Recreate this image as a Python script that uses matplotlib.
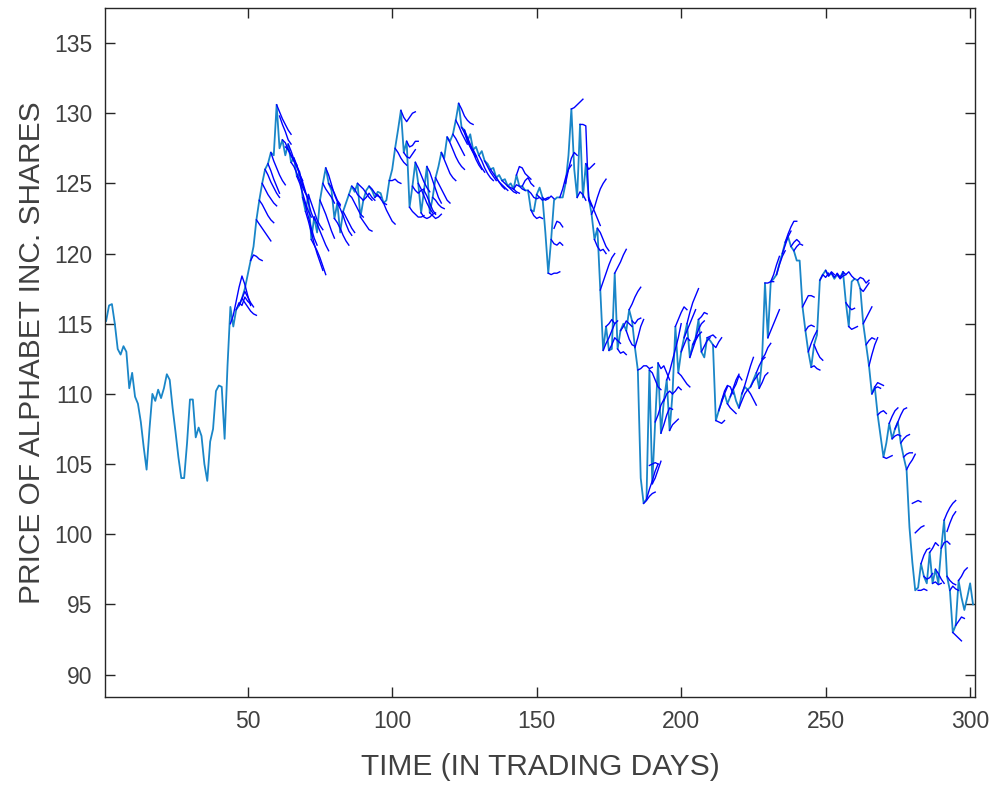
import matplotlib
matplotlib.use("Agg")
import matplotlib.pyplot as plt

# price, day 1..301 (the light line)
price = [115.2, 116.3, 116.4, 115.0, 113.2, 112.8, 113.4, 113.0, 110.4, 111.5,
         109.8, 109.3, 108.0, 106.2, 104.6, 107.5, 110.0, 109.5, 110.3, 109.7,
         110.4, 111.4, 111.0, 109.0, 107.3, 105.5, 104.0, 104.0, 106.5, 109.6,
         109.6, 106.9, 107.6, 107.0, 105.0, 103.8, 106.6, 107.5, 110.2, 110.6,
         110.5, 106.8, 112.0, 116.2, 114.8, 116.0, 116.3, 116.8, 117.5, 118.5,
         119.5, 120.5, 122.4, 123.8, 125.0, 126.0, 126.4, 127.2, 127.0, 130.6,
         127.5, 128.1, 127.0, 127.8, 126.5, 126.8, 125.5, 125.7, 124.0, 123.0,
         124.2, 121.0, 122.6, 121.5, 123.8, 125.0, 126.1, 125.0, 124.5, 122.5,
         123.6, 121.5, 123.0, 123.6, 124.2, 124.8, 124.4, 125.0, 122.6, 123.8,
         124.5, 124.8, 124.5, 124.0, 124.4, 124.3, 123.6, 123.8, 125.2, 126.0,
         127.5, 128.8, 130.2, 127.2, 128.0, 123.3, 124.8, 126.5, 125.0, 122.9,
         124.5, 126.2, 122.9, 124.0, 125.4, 126.2, 127.2, 126.8, 128.3, 128.0,
         128.5, 129.5, 130.7, 129.0, 128.8, 128.0, 128.5, 127.4, 127.6, 127.0,
         127.3, 126.6, 126.4, 126.0, 126.1, 125.4, 125.6, 125.2, 125.3, 124.8,
         125.0, 124.6, 125.6, 124.8, 124.8, 124.5, 124.5, 123.1, 123.0, 124.2,
         124.7, 124.0, 121.5, 118.6, 121.0, 123.8, 124.0, 124.0, 124.0, 125.0,
         127.0, 130.3, 126.0, 124.0, 129.2, 124.0, 126.4, 124.0, 122.8, 121.0,
         121.8, 117.4, 113.1, 114.8, 113.1, 113.2, 118.6, 113.2, 114.5, 115.0,
         114.5, 116.0, 115.2, 113.3, 111.7, 104.0, 102.2, 102.5, 111.7, 103.6,
         108.0, 112.2, 107.2, 109.5, 111.0, 107.4, 110.0, 114.8, 111.5, 113.0,
         114.0, 115.0, 112.6, 113.5, 114.0, 115.3, 113.0, 112.6, 114.0, 113.8,
         113.5, 108.1, 108.8, 109.5, 110.0, 109.3, 109.8, 110.3, 109.5, 109.0,
         110.0, 110.5, 110.3, 110.5, 111.0, 111.5, 110.4, 112.5, 117.9, 114.0,
         118.0, 118.2, 118.5, 119.3, 120.0, 120.8, 121.2, 120.5, 120.2, 119.5,
         119.5, 116.2, 114.5, 113.0, 111.9, 113.5, 114.2, 118.1, 118.5, 118.8,
         118.4, 118.6, 118.2, 118.5, 118.3, 118.7, 116.5, 114.8, 118.0, 118.2,
         118.1, 117.5, 115.0, 113.5, 112.0, 110.0, 110.5, 108.5, 107.0, 105.5,
         106.5, 107.9, 106.8, 107.5, 108.0, 106.5, 105.5, 104.6, 100.5, 98.0,
         96.0, 96.2, 97.9, 97.0, 96.5, 98.7, 96.5, 97.5, 96.5, 99.0,
         101.0, 97.0, 96.0, 93.0, 93.5, 96.7, 95.5, 94.6, 95.5, 96.5,
         95.0]
days = list(range(1, len(price) + 1))

# forecast pieces: first day and the values from that day on
fc_start = [44, 46, 47, 48, 51, 53, 54, 55, 56, 57, 58, 60, 61, 62, 63, 64, 65, 66, 67, 68,
            69, 70, 71, 72, 73, 75, 76, 77, 78, 80, 81, 83, 85, 86, 88, 89, 90, 92, 94, 97,
            99, 101, 103, 104, 105, 106, 107, 108, 109, 110, 111, 112, 113, 114, 115, 117, 119, 121, 122, 123,
            124, 125, 126, 128, 130, 132, 134, 136, 138, 140, 142, 143, 145, 147, 148, 150, 152, 154, 155, 156,
            158, 160, 162, 164, 165, 167, 168, 169, 170, 171, 172, 173, 174, 175, 177, 178, 179, 181, 182, 183,
            184, 185, 187, 188, 189, 189, 190, 191, 192, 193, 194, 195, 196, 197, 198, 199, 200, 201, 202, 203,
            204, 205, 206, 207, 209, 211, 212, 213, 214, 216, 217, 218, 220, 221, 223, 224, 226, 227, 228, 229,
            230, 231, 233, 235, 236, 238, 239, 242, 243, 244, 245, 246, 248, 250, 252, 254, 256, 257, 258, 261,
            262, 263, 264, 265, 266, 267, 268, 270, 272, 273, 274, 276, 277, 278, 280, 281, 282, 283, 284, 286,
            287, 288, 290, 291, 292, 292, 293, 294, 295, 296]
fc_vals = [
    [115.0, 115.6, 116.6, 117.6, 118.4, 117.8, 117.0, 116.3],
    [116.0, 116.5, 116.3, 116.9, 116.6, 116.4],
    [116.3, 116.8, 116.5, 116.2, 115.9, 115.7, 115.6],
    [116.8, 117.3, 116.9, 116.5, 116.2],
    [119.5, 119.9, 119.8, 119.6, 119.5],
    [122.4, 122.1, 121.8, 121.5, 121.2, 120.9],
    [123.8, 123.5, 123.1, 122.7, 122.4, 122.2],
    [125.0, 124.6, 124.2, 123.9, 123.6, 123.4],
    [126.0, 125.6, 125.1, 124.7, 124.3, 124.0],
    [126.4, 125.9, 125.3, 124.8, 124.3],
    [127.2, 126.6, 126.1, 125.6, 125.2, 124.9],
    [130.6, 130.1, 129.6, 129.2, 128.8, 128.5],
    [129.8, 129.2, 128.7, 128.1, 127.8],
    [128.1, 127.9, 127.4, 127.0, 126.6, 126.3],
    [127.6, 127.4, 127.0, 126.6, 126.2, 125.8],
    [127.8, 127.3, 126.7, 126.2, 125.6, 125.2],
    [126.5, 126.2, 125.7, 125.2, 124.7, 124.3],
    [126.8, 126.3, 125.6, 124.9, 124.3, 123.9],
    [125.5, 125.0, 124.3, 123.6, 123.0, 122.6],
    [125.7, 125.1, 124.4, 123.6, 122.9, 122.4],
    [124.0, 123.4, 122.6, 121.8, 121.1, 120.6],
    [123.0, 122.3, 121.5, 120.7, 120.0, 119.4, 118.8],
    [124.2, 123.6, 123.0, 122.4, 122.0, 121.7],
    [121.0, 120.6, 120.2, 119.7, 119.1, 118.5],
    [122.6, 122.1, 121.6, 121.1, 120.6, 120.2],
    [123.8, 123.3, 122.8, 122.2, 121.6, 121.1],
    [125.0, 124.6, 124.3, 124.0, 123.6],
    [126.1, 125.6, 124.9, 124.2, 123.7, 123.4],
    [125.0, 124.7, 124.3, 123.8, 123.5],
    [122.5, 122.2, 121.8, 121.3, 120.9, 120.6],
    [123.6, 123.2, 122.7, 122.1, 121.6, 121.3],
    [123.0, 122.6, 122.2, 121.8, 121.5],
    [124.2, 124.0, 123.6, 123.2, 122.8, 122.6],
    [124.8, 124.6, 124.2, 124.0, 123.8],
    [125.0, 124.8, 124.6, 124.3, 124.0, 123.8],
    [122.6, 122.3, 122.0, 121.7, 121.6],
    [123.8, 124.0, 124.3, 124.0, 123.8],
    [124.8, 124.6, 124.3, 124.1, 124.0],
    [124.0, 124.2, 123.9, 123.6, 123.5],
    [123.6, 123.1, 122.7, 122.3, 122.1],
    [125.2, 125.2, 125.3, 125.1, 125.0],
    [127.5, 127.2, 126.8, 126.5, 126.3],
    [130.2, 129.7, 129.4, 129.7, 130.0, 130.1],
    [127.2, 126.9, 126.8, 127.1, 127.4],
    [128.0, 127.6, 127.7, 128.0, 128.0],
    [123.3, 123.0, 122.8, 122.6, 122.6, 122.7],
    [124.8, 124.5, 124.3, 124.5, 124.6],
    [126.5, 126.1, 125.6, 125.1, 124.7, 124.4],
    [125.0, 124.6, 124.1, 123.6, 123.2, 122.9],
    [122.9, 122.6, 122.5, 122.6, 122.8, 122.9],
    [124.5, 124.1, 123.6, 123.1, 122.8],
    [126.2, 125.8, 125.2, 124.6, 124.0, 123.6],
    [122.9, 122.7, 122.5, 122.6, 122.8],
    [124.0, 123.8, 123.5, 123.3, 123.2],
    [125.4, 125.0, 124.6, 124.2, 123.8, 123.6],
    [127.2, 126.7, 126.2, 125.7, 125.4, 125.2],
    [128.3, 127.9, 127.4, 126.9, 126.5, 126.2, 126.0],
    [128.5, 128.2, 127.8, 127.4, 127.0],
    [129.5, 129.1, 128.6, 128.2, 127.8],
    [130.7, 130.3, 129.8, 129.5, 129.3, 129.2],
    [129.0, 128.6, 128.1, 127.6, 127.2, 126.9],
    [128.8, 128.3, 127.8, 127.3, 126.9],
    [128.0, 127.6, 127.2, 126.7, 126.3, 126.0],
    [127.4, 127.0, 126.5, 126.1, 125.8],
    [127.0, 126.6, 126.1, 125.7, 125.4, 125.2],
    [126.6, 126.2, 125.8, 125.5, 125.2],
    [126.0, 125.7, 125.4, 125.1, 124.8, 124.6],
    [125.4, 125.1, 124.9, 124.7, 124.5],
    [125.2, 125.0, 124.8, 124.6, 124.4, 124.3],
    [124.8, 124.7, 124.6, 124.4, 124.3],
    [124.6, 124.9, 124.8, 124.6, 124.5],
    [125.6, 126.2, 126.1, 125.7, 125.5, 125.3],
    [124.8, 125.2, 125.4, 125.0, 124.8],
    [124.5, 124.3, 124.0, 123.9, 124.0],
    [123.1, 122.7, 122.5, 122.6, 122.5],
    [124.2, 124.0, 123.8, 123.9, 124.0],
    [124.0, 123.8, 123.9, 124.1, 123.9],
    [118.6, 118.5, 118.6, 118.6, 118.7],
    [121.0, 120.7, 120.6, 120.8, 120.6],
    [121.8, 122.3, 122.2, 121.9],
    [124.0, 124.6, 125.4, 126.0, 126.3],
    [125.0, 126.0, 126.8, 127.2, 127.0],
    [130.3, 130.4, 130.6, 130.8, 131.0],
    [124.0, 124.4, 124.2, 123.8],
    [129.2, 129.2, 129.1, 123.8, 123.4],
    [126.4, 126.0, 126.2, 126.4],
    [124.0, 123.5, 123.0, 122.5, 122.0],
    [122.8, 123.3, 124.0, 124.6, 125.0, 125.3],
    [121.0, 120.5, 120.2, 120.3, 120.0],
    [121.8, 121.5, 121.0, 120.5, 120.2],
    [117.4, 118.0, 118.6, 119.2, 119.7, 120.0],
    [113.1, 113.6, 114.0, 114.5, 115.0],
    [114.8, 115.0, 115.3, 115.0, 115.2],
    [113.1, 113.5, 114.0, 113.8, 113.6],
    [118.6, 119.0, 119.4, 119.9, 120.3],
    [113.2, 112.9, 113.0, 112.8],
    [114.5, 114.8, 115.2, 115.0, 114.8],
    [114.5, 113.9, 113.5, 113.4],
    [116.0, 116.4, 116.9, 117.3, 117.6],
    [115.2, 115.0, 115.3, 115.4],
    [113.3, 114.0, 114.8, 115.3],
    [111.7, 111.8, 112.0, 112.0, 111.8, 111.9],
    [102.2, 102.4, 102.7, 102.9, 103.0],
    [102.5, 103.2, 103.8, 104.5, 105.0],
    [104.9, 105.0, 105.1, 105.0],
    [111.7, 111.5, 111.0, 110.5, 110.3],
    [103.6, 104.0, 104.6, 105.2],
    [108.0, 108.5, 109.2, 109.6],
    [112.2, 111.8, 112.0, 111.5, 111.0],
    [107.2, 107.8, 108.5, 109.0, 108.9],
    [109.5, 110.0, 110.2, 110.0],
    [111.0, 111.6, 112.4, 113.2, 114.0, 115.0],
    [107.4, 107.8, 108.0, 108.2],
    [110.0, 110.2, 110.5, 110.3],
    [114.8, 115.3, 115.8, 116.2, 116.0],
    [111.5, 111.3, 111.0, 110.7, 110.5],
    [113.0, 113.5, 114.0, 113.8],
    [114.0, 114.5, 115.0, 115.5, 116.0],
    [115.0, 115.8, 116.5, 117.0, 117.5],
    [112.6, 113.2, 113.8, 114.2],
    [113.5, 113.9, 114.2, 114.4],
    [114.0, 114.6, 115.0, 115.2],
    [115.3, 115.5, 115.8, 115.7],
    [113.0, 113.4, 113.8, 114.0],
    [114.0, 114.1, 114.2, 114.0],
    [113.5, 113.3, 113.7, 114.0],
    [108.1, 108.0, 107.9, 108.1],
    [108.8, 109.4, 110.0, 110.5],
    [109.5, 110.2, 110.6, 110.5, 110.0],
    [109.3, 109.0, 108.8, 108.6],
    [109.8, 110.4, 111.0, 111.4],
    [110.3, 110.7, 111.3, 111.0],
    [109.0, 109.5, 110.0, 110.3],
    [110.0, 110.6, 111.3, 112.0, 112.6],
    [110.3, 110.0, 109.6, 109.2],
    [110.5, 110.9, 111.2, 111.5],
    [111.5, 112.0, 112.4, 112.6],
    [110.4, 110.8, 111.3, 111.5],
    [112.5, 112.8, 113.3, 113.6],
    [117.9, 117.9, 118.0, 118.0],
    [114.0, 114.5, 115.0, 115.5, 116.0],
    [118.0, 118.5, 119.2, 119.8],
    [118.5, 119.2, 119.8, 120.2],
    [120.0, 120.6, 121.2, 121.6],
    [120.8, 121.4, 121.9, 122.3, 122.3],
    [120.5, 120.8, 121.0, 120.8],
    [120.2, 120.5, 120.7, 120.6],
    [116.2, 116.6, 117.0, 117.0, 116.9],
    [114.5, 114.8, 114.9, 114.8],
    [113.0, 113.6, 114.1, 114.5],
    [111.9, 112.0, 111.8, 111.7],
    [113.5, 113.0, 112.6, 112.4],
    [118.1, 118.5, 118.3, 118.6],
    [118.8, 118.4, 118.7, 118.5],
    [118.6, 118.3, 118.6, 118.3, 118.6],
    [118.5, 118.2, 118.4, 118.5],
    [118.7, 118.5, 118.7, 118.4, 118.2],
    [116.5, 116.2, 116.0, 116.1],
    [114.8, 114.6, 114.7, 114.8],
    [118.1, 118.3, 118.2, 117.9, 118.1],
    [117.5, 117.3, 117.6, 117.9],
    [115.0, 115.4, 115.8, 116.2],
    [113.5, 113.8, 114.0, 113.9],
    [112.0, 112.8, 113.5, 114.0],
    [110.0, 110.4, 110.5, 110.4],
    [110.5, 110.8, 110.7, 110.6],
    [108.5, 108.7, 108.8, 108.6],
    [105.5, 105.4, 105.5, 105.6],
    [107.9, 108.4, 108.8, 109.0],
    [106.8, 107.0, 107.1, 107.0],
    [107.5, 108.0, 108.5, 108.9, 109.0],
    [106.5, 106.8, 107.0, 107.1],
    [105.5, 105.7, 105.8, 105.8],
    [104.6, 105.0, 105.3, 105.7],
    [102.2, 102.3, 102.4, 102.3],
    [100.1, 100.3, 100.5, 100.6],
    [96.0, 96.0, 96.1, 96.0],
    [97.9, 98.5, 98.9, 99.0],
    [97.0, 96.8, 96.9, 97.2],
    [98.7, 99.0, 99.4, 99.2],
    [96.5, 96.6, 96.4, 96.5],
    [97.5, 97.2, 96.8, 96.5],
    [99.0, 99.4, 99.5, 99.3],
    [101.0, 101.5, 101.9, 102.2, 102.4],
    [97.0, 96.7, 96.5, 96.4],
    [100.2, 100.8, 101.3, 101.6],
    [96.0, 96.3, 96.1, 96.0],
    [93.0, 92.8, 92.6, 92.4],
    [93.5, 93.8, 94.1, 94.0],
    [96.7, 97.0, 97.4, 97.6],
]

plt.rcParams['font.family'] = ['Liberation Sans', 'DejaVu Sans']
fig = plt.figure(figsize=(9.98, 7.89), dpi=100)
ax = fig.add_axes([0.1052, 0.1166, 0.8718, 0.8733])

ax.plot(days, price, color='#1a86c8', linewidth=1.3)
for s, v in zip(fc_start, fc_vals):
    ax.plot(range(s, s + len(v)), v, color='#0000ff', linewidth=1.0)

ax.set_xlim(0.6, 301.7)
ax.set_ylim(88.4, 137.5)
ax.set_xticks([50, 100, 150, 200, 250, 300])
ax.set_yticks([90, 95, 100, 105, 110, 115, 120, 125, 130, 135])
ax.tick_params(direction='in', length=7, width=1, top=True, right=True,
               labelsize=16.5, colors='#262626', labelcolor='#404040', pad=9)
for sp in ax.spines.values():
    sp.set_color('#262626')
    sp.set_linewidth(1)
ax.set_xlabel('TIME (IN TRADING DAYS)', fontsize=21.5, color='#404040', labelpad=15)
ax.set_ylabel('PRICE OF ALPHABET INC. SHARES', fontsize=21.5, color='#404040', labelpad=6)

fig.savefig('out.png', dpi=100)
